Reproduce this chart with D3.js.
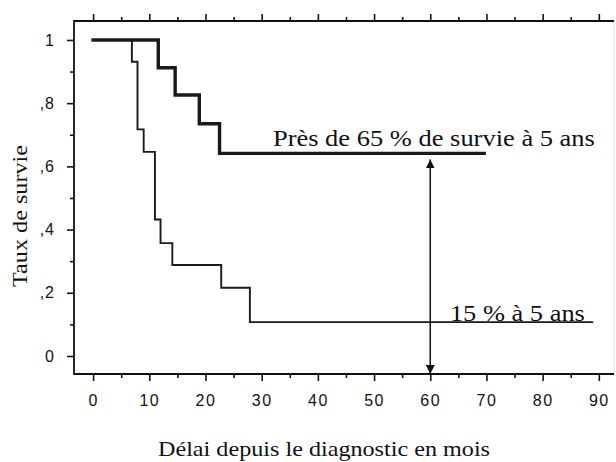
<!DOCTYPE html>
<html>
<head>
<meta charset="utf-8">
<script src="https://cdn.jsdelivr.net/npm/d3@7"></script>
<style>
  body { margin: 0; background: #fff; }
  svg text { fill: #111; }
</style>
</head>
<body>
<div id="chart"></div>
<script>
// Kaplan-Meier curves
var groupA_t = [0, 11.6, 14.6, 18.9, 22.5, 69.6];
var groupA_s = [1, 0.912, 0.826, 0.735, 0.641, 0.641];
var groupB_t = [0, 6.9, 7.9, 9.0, 11.0, 12.0, 14.1, 22.8, 27.9, 89];
var groupB_s = [1, 0.931, 0.717, 0.646, 0.432, 0.357, 0.288, 0.216, 0.107, 0.107];

var xTicks = [0, 10, 20, 30, 40, 50, 60, 70, 80, 90];
var xMinor = [5, 15, 25, 35, 45, 55, 65, 75, 85];
var yTicks = [0, 0.2, 0.4, 0.6, 0.8, 1];
var yTickLabels = ['0', ',2', ',4', ',6', ',8', '1'];
var yMinor = [0.1, 0.3, 0.5, 0.7, 0.9];

var labelA = 'Près de 65 % de survie à 5 ans';
var labelB = '15 % à 5 ans';
var xTitle = 'Délai depuis le diagnostic en mois';
var yTitle = 'Taux de survie';
var markT = 60;

var w = 616, h = 462;
var fL = 74, fR = 614, fT = 21, fB = 374;

var svg = d3.select('#chart').append('svg')
  .attr('width', w)
  .attr('height', h);

var x = d3.scaleLinear().domain([-3.4, 92.7]).range([fL, fR]);
var y = d3.scaleLinear().domain([-0.057, 1.06]).range([fB, fT]);

var defs = svg.append('defs');
defs.append('marker')
  .attr('id', 'head')
  .attr('viewBox', '0 0 10 10')
  .attr('refX', 10).attr('refY', 5)
  .attr('markerWidth', 9).attr('markerHeight', 9)
  .attr('markerUnits', 'userSpaceOnUse')
  .attr('orient', 'auto-start-reverse')
  .append('path')
  .attr('d', 'M0,0 L10,5 L0,10 z')
  .attr('fill', '#111');

var sans = "'Liberation Sans', Arial, sans-serif";
var serif = "'Liberation Serif', 'Times New Roman', serif";

// faint right border
svg.append('line')
  .attr('x1', fR).attr('x2', fR)
  .attr('y1', fT).attr('y2', fB)
  .attr('stroke', '#ddd');

function styleAxis(g) {
  g.select('.domain').remove();
  g.selectAll('line').attr('stroke', '#111').attr('stroke-width', 1.6);
}

// bottom axis
var gb = svg.append('g').attr('transform', 'translate(0,' + fB + ')');
gb.call(d3.axisBottom(x).tickValues(xTicks).tickSize(7).tickPadding(14))
  .call(styleAxis);
gb.selectAll('text')
  .attr('font-family', sans).attr('font-size', 16)
  .attr('letter-spacing', 1.5);
svg.append('g').attr('transform', 'translate(0,' + fB + ')')
  .call(d3.axisBottom(x).tickValues(xMinor).tickSize(4).tickFormat(''))
  .call(styleAxis);

// top axis (ticks only)
svg.append('g').attr('transform', 'translate(0,' + fT + ')')
  .call(d3.axisTop(x).tickValues(xTicks).tickSize(7).tickFormat(''))
  .call(styleAxis);
svg.append('g').attr('transform', 'translate(0,' + fT + ')')
  .call(d3.axisTop(x).tickValues(xMinor).tickSize(4).tickFormat(''))
  .call(styleAxis);

// left axis
var gl = svg.append('g').attr('transform', 'translate(' + fL + ',0)');
gl.call(d3.axisLeft(y).tickValues(yTicks).tickSize(7).tickPadding(12)
    .tickFormat(function(d, i) { return yTickLabels[i]; }))
  .call(styleAxis);
gl.selectAll('text')
  .attr('font-family', sans).attr('font-size', 16)
  .attr('letter-spacing', 1);
svg.append('g').attr('transform', 'translate(' + fL + ',0)')
  .call(d3.axisLeft(y).tickValues(yMinor).tickSize(4).tickFormat(''))
  .call(styleAxis);

// frame lines
svg.append('path')
  .attr('d', 'M' + fR + ',' + fT + 'H' + fL + 'V' + fB + 'H' + fR)
  .attr('fill', 'none')
  .attr('stroke', '#111')
  .attr('stroke-width', 1.8);

// curves
var line = d3.line()
  .x(function(d) { return x(d[0]); })
  .y(function(d) { return y(d[1]); })
  .curve(d3.curveStepAfter);

svg.append('path')
  .datum(d3.zip(groupB_t, groupB_s))
  .attr('d', line)
  .attr('fill', 'none')
  .attr('stroke', '#1a1a1a')
  .attr('stroke-width', 1.9);

svg.append('path')
  .datum(d3.zip(groupA_t, groupA_s))
  .attr('d', line)
  .attr('fill', 'none')
  .attr('stroke', '#1a1a1a')
  .attr('stroke-width', 3.4)
  .attr('stroke-linecap', 'square');

// double arrow at 5 years
svg.append('line')
  .attr('x1', x(markT)).attr('x2', x(markT))
  .attr('y1', y(groupA_s[groupA_s.length - 1]) + 6)
  .attr('y2', fB)
  .attr('stroke', '#111')
  .attr('stroke-width', 1.5)
  .attr('marker-start', 'url(#head)')
  .attr('marker-end', 'url(#head)');

// annotations
svg.append('text')
  .attr('x', x(32)).attr('y', y(groupA_s[groupA_s.length - 1]) - 7)
  .attr('font-family', serif).attr('font-size', 24)
  .attr('textLength', 322).attr('lengthAdjust', 'spacingAndGlyphs')
  .text(labelA);

svg.append('text')
  .attr('x', x(63.5)).attr('y', y(groupB_s[groupB_s.length - 1]) - 1)
  .attr('font-family', serif).attr('font-size', 24)
  .attr('textLength', 135).attr('lengthAdjust', 'spacingAndGlyphs')
  .text(labelB);

// axis titles
svg.append('text')
  .attr('x', 324).attr('y', 456)
  .attr('text-anchor', 'middle')
  .attr('font-family', serif).attr('font-size', 22)
  .attr('textLength', 332).attr('lengthAdjust', 'spacingAndGlyphs')
  .text(xTitle);

svg.append('text')
  .attr('transform', 'translate(27,' + 216 + ') rotate(-90)')
  .attr('text-anchor', 'middle')
  .attr('font-family', serif).attr('font-size', 21)
  .attr('textLength', 142).attr('lengthAdjust', 'spacingAndGlyphs')
  .text(yTitle);
</script>
</body>
</html>
